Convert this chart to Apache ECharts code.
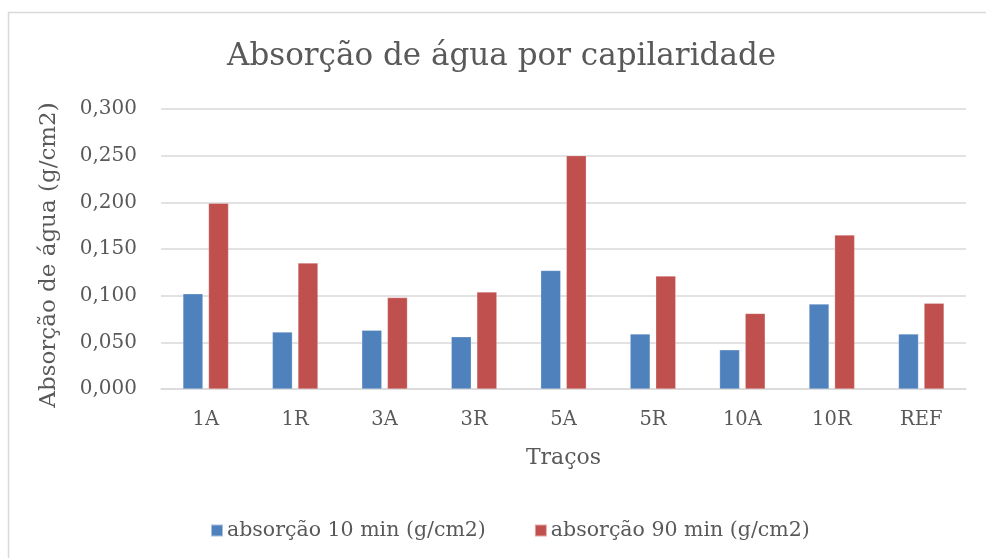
<!DOCTYPE html>
<html><head><meta charset="utf-8">
<script src="https://cdn.jsdelivr.net/npm/echarts@6/dist/echarts.min.js"></script>
<style>html,body{margin:0;padding:0;background:#fff}#c{width:986px;height:558px}</style>
</head><body><div id="c"></div>
<script>
const categories = ['1A','1R','3A','3R','5A','5R','10A','10R','REF'];
const abs10 = [0.102, 0.061, 0.063, 0.056, 0.127, 0.059, 0.042, 0.091, 0.059];
const abs90 = [0.199, 0.135, 0.098, 0.104, 0.250, 0.121, 0.081, 0.165, 0.092];
const seriesNames = ['absorção 10 min (g/cm2)', 'absorção 90 min (g/cm2)'];
const yTicks = [0, 0.05, 0.1, 0.15, 0.2, 0.25, 0.3];

const FONT = 'DejaVu Serif';
const TXT = '#595959';
const chart = echarts.init(document.getElementById('c'), null, {renderer:'canvas'});
chart.setOption({
  animation:false,
  backgroundColor:'#fff',
  textStyle:{fontFamily:FONT},
  graphic:[{type:'rect', shape:{x:8.5,y:12.5,width:1200,height:800}, style:{fill:'none', stroke:'#d9d9d9', lineWidth:1.5}, silent:true}],
  title:{text:'Absorção de água por capilaridade', left:222, top:36,
    textStyle:{fontFamily:FONT, fontSize:31, fontWeight:'normal', color:TXT}},
  legend:{left:205, top:515, itemWidth:12, itemHeight:12, itemGap:48, icon:'rect',
    textStyle:{fontFamily:FONT, fontSize:20.5, color:TXT, padding:[0,0,0,-1]},
    data:seriesNames},
  grid:{left:161, right:20, top:109, bottom:169, containLabel:false},
  xAxis:{type:'category', data:categories, name:'Traços', nameLocation:'middle', nameGap:58,
    nameTextStyle:{fontFamily:FONT, fontSize:22, color:TXT},
    axisLine:{lineStyle:{color:'#d9d9d9', width:1.5}}, axisTick:{show:false},
    axisLabel:{fontFamily:FONT, fontSize:19.5, color:TXT, margin:21}},
  yAxis:{type:'value', min:0, max:0.3, interval:0.05,
    name:'Absorção de água (g/cm2)', nameLocation:'middle', nameGap:100, nameRotate:90,
    nameTextStyle:{fontFamily:FONT, fontSize:23, color:TXT, padding:[0,12,0,0]},
    axisLine:{show:false}, axisTick:{show:false},
    splitLine:{lineStyle:{color:'#d9d9d9', width:1.5}},
    axisLabel:{fontFamily:FONT, fontSize:20, color:TXT, margin:24,
      formatter:v=>v.toFixed(3).replace('.',',')}},
  series:[
    {name:seriesNames[0], type:'bar', data:abs10, barWidth:20, barGap:'28%',
     itemStyle:{color:'#4F81BD', borderColor:'rgba(255,255,255,0.5)', borderWidth:0.5}},
    {name:seriesNames[1], type:'bar', data:abs90, barWidth:20, barGap:'28%',
     itemStyle:{color:'#C0504D', borderColor:'rgba(255,255,255,0.5)', borderWidth:0.5}}
  ]
});
</script></body></html>
